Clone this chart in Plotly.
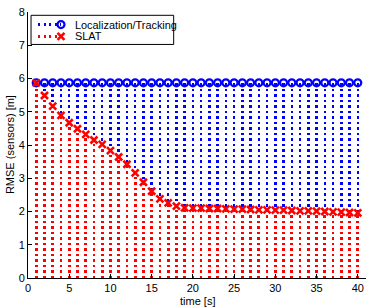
import plotly.graph_objects as go

time_s = list(range(1, 41))
loc_tracking = [5.87] * 40
slat = [5.87, 5.49, 5.17, 4.89, 4.67, 4.49, 4.32, 4.15, 4.02, 3.83,
        3.64, 3.42, 3.16, 2.88, 2.61, 2.38, 2.26, 2.16, 2.11, 2.10,
        2.10, 2.09, 2.09, 2.08, 2.07, 2.07, 2.06, 2.05, 2.05, 2.04,
        2.04, 2.03, 2.02, 2.02, 2.01, 2.00, 1.99, 1.98, 1.97, 1.96]
series_names = ["Localization/Tracking", "SLAT"]
x_ticks = [0, 5, 10, 15, 20, 25, 30, 35, 40]
y_ticks = [0, 1, 2, 3, 4, 5, 6, 7, 8]

BLUE = "rgb(0,0,255)"
RED = "rgb(255,0,0)"
DOT = "2.4px,3.1px"
FONT = "Liberation Sans, Arial, sans-serif"


def stems(xs, ys):
    sx, sy = [], []
    for x, y in zip(xs, ys):
        sx += [x, x, None]
        sy += [0, y, None]
    return sx, sy


fig = go.Figure()

specs = [
    (loc_tracking, series_names[0], BLUE, 2.5, dict(symbol="circle-open", size=7, line=dict(width=2.2, color=BLUE), color=BLUE)),
    (slat, series_names[1], RED, 2.7, dict(symbol="x-thin", size=7, line=dict(width=2.6, color=RED), color=RED)),
]

for vals, name, col, w, mk in specs:
    sx, sy = stems(time_s, vals)
    fig.add_trace(go.Scatter(x=sx, y=sy, mode="lines", line=dict(color=col, width=w, dash=DOT),
                             showlegend=False, hoverinfo="skip"))
    fig.add_trace(go.Scatter(x=time_s, y=vals, mode="markers", marker=mk, name=name,
                             showlegend=False))

# custom compact legend drawn on an overlay axis spanning the plot area (0..1)
leg_rows = [0.9526, 0.9085]
for (vals, name, col, w, mk), ry in zip(specs, leg_rows):
    fig.add_trace(go.Scatter(x=[0.0296, 0.0976], y=[ry, ry], mode="lines", xaxis="x2", yaxis="y2",
                             line=dict(color=col, width=2.5, dash=DOT), showlegend=False, hoverinfo="skip"))
    fig.add_trace(go.Scatter(x=[0.0976], y=[ry], mode="markers", xaxis="x2", yaxis="y2",
                             marker=mk, showlegend=False, hoverinfo="skip"))
    fig.add_annotation(x=0.133, y=ry, xref="paper", yref="paper", text=name, showarrow=False,
                       xanchor="left", yanchor="middle",
                       font=dict(family=FONT, size=10.9, color="black"))

fig.add_shape(type="rect", xref="paper", yref="paper", x0=0.009, x1=0.431, y0=0.878, y1=0.9876,
              line=dict(color="black", width=1), fillcolor="rgba(0,0,0,0)", layer="above")

axis_common = dict(
    showline=True, linecolor="black", linewidth=1, ticks="inside", ticklen=4,
    tickcolor="black", showgrid=False, zeroline=False, mirror=False, automargin=False,
    tickfont=dict(family=FONT, size=11, color="black"),
)

fig.update_xaxes(range=[0, 41], tickvals=x_ticks, **axis_common)
fig.update_yaxes(range=[0, 8], tickvals=y_ticks, **axis_common)

fig.update_layout(
    xaxis2=dict(overlaying="x", range=[0, 1], visible=False, fixedrange=True),
    yaxis2=dict(overlaying="y", range=[0, 1], visible=False, fixedrange=True),
)

fig.add_annotation(x=0.5, y=-0.0855, xref="paper", yref="paper", text="time [s]", showarrow=False,
                   xanchor="center", yanchor="middle", font=dict(family=FONT, size=11, color="black"))
fig.add_annotation(x=-0.053, y=0.5, xref="paper", yref="paper", text="RMSE (sensors) [m]", showarrow=False,
                   textangle=-90, xanchor="center", yanchor="middle",
                   font=dict(family=FONT, size=11, color="black"))

fig.update_layout(
    width=374, height=308,
    margin=dict(l=28, r=8, t=12, b=30),
    plot_bgcolor="white", paper_bgcolor="white",
    showlegend=False,
)

post = (
    "document.body.style.margin='0';document.body.style.padding='0';"
    "document.querySelectorAll('.scatterlayer .js-line').forEach(function(p){p.style.shapeRendering='crispEdges';});"
)
fig.write_html("out.html", post_script=post, config={"displayModeBar": False})
